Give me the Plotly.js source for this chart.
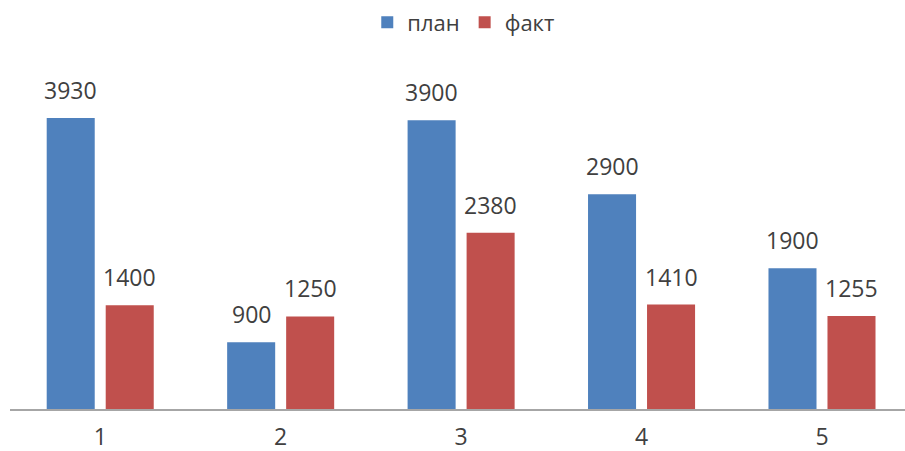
<!DOCTYPE html>
<html>
<head>
<meta charset="utf-8">
<script src="https://cdn.plot.ly/plotly-3.0.1.min.js"></script>
<style>html,body{margin:0;padding:0;background:#fff;}#chart{width:905px;height:451px;}</style>
</head>
<body>
<div id="chart"></div>
<script>
var categories = ["1", "2", "3", "4", "5"];
var planValues = [3930, 900, 3900, 2900, 1900];
var factValues = [1400, 1250, 2380, 1410, 1255];
var seriesNames = ["план", "факт"];

var xs = categories.map(function(c, i){ return i; });
var labelFont = {family: "Open Sans, Liberation Sans, sans-serif", size: 23, color: "#404040"};
var legendFont = {family: "Open Sans, Liberation Sans, sans-serif", size: 22, color: "#404040"};

var traces = [
  {type: "bar", name: seriesNames[0], x: xs, y: planValues, marker: {color: "#4F81BD"}, hoverinfo: "none"},
  {type: "bar", name: seriesNames[1], x: xs, y: factValues, marker: {color: "#C0504D"}, hoverinfo: "none"}
];

var slotOffset = 0.1635;
var annotations = [];
xs.forEach(function(x, i){
  annotations.push({x: x - slotOffset, y: planValues[i], text: String(planValues[i]), showarrow: false, xref: "x", yref: "y", yanchor: "bottom", yshift: 10, font: labelFont});
  annotations.push({x: x + slotOffset, y: factValues[i], text: String(factValues[i]), showarrow: false, xref: "x", yref: "y", yanchor: "bottom", yshift: 10, font: labelFont});
});

var layout = {
  width: 905, height: 451,
  margin: {l: 10, r: 0, t: 60, b: 42, autoexpand: false},
  paper_bgcolor: "#fff", plot_bgcolor: "#fff",
  barmode: "group", bargap: 0.346, bargroupgap: 0.186,
  showlegend: true,
  legend: {orientation: "h", x: 0.507, xanchor: "center", xref: "paper", yref: "container", y: 0.997, yanchor: "top", font: legendFont, itemwidth: 30},
  xaxis: {type: "linear", range: [-0.5, 4.46], tickvals: xs, ticktext: categories, showgrid: false, zeroline: false,
          showline: true, linecolor: "#a6a6a6", linewidth: 1.5, ticks: "", tickfont: labelFont, ticklabelstandoff: 7},
  yaxis: {range: [0, 4713], showgrid: false, zeroline: false, showline: false, showticklabels: false, ticks: ""},
  annotations: annotations
};

Plotly.newPlot("chart", traces, layout, {displayModeBar: false, staticPlot: true});
</script>
</body>
</html>
